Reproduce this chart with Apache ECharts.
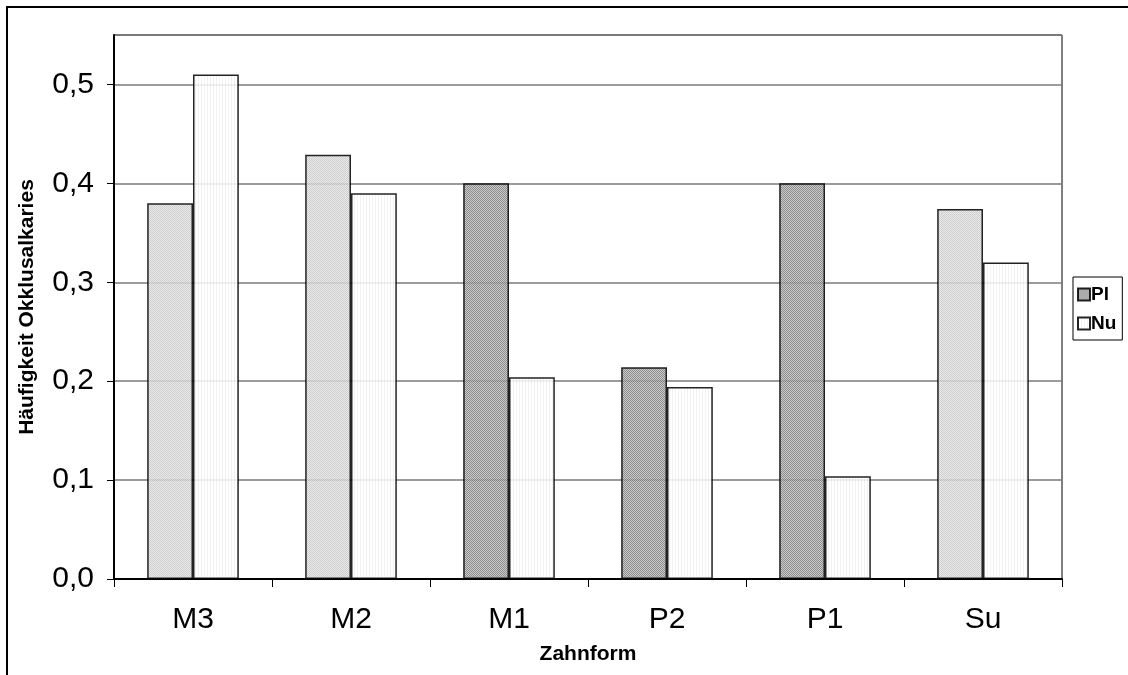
<!DOCTYPE html>
<html>
<head>
<meta charset="utf-8">
<script src="https://cdn.jsdelivr.net/npm/echarts@6/dist/echarts.min.js"></script>
<style>
  html, body { margin: 0; padding: 0; background: #fff; overflow: hidden; }
  #chart { width: 1128px; height: 675px; }
</style>
</head>
<body>
<div id="chart"></div>
<script>
// Tooth forms on the category axis
const categories = ['M3', 'M2', 'M1', 'P2', 'P1', 'Su'];
// Occlusal caries frequency per group
const seriesPl = [0.38, 0.429, 0.40, 0.214, 0.40, 0.374];
const seriesNu = [0.51, 0.39, 0.204, 0.194, 0.104, 0.32];
const seriesNames = ['Pl', 'Nu'];
const yTicks = [0.0, 0.1, 0.2, 0.3, 0.4, 0.5];

// Small repeating fill textures (stipple / stripes)
function makePattern(w, h, painter) {
  const c = document.createElement('canvas');
  c.width = w; c.height = h;
  const ctx = c.getContext('2d');
  painter(ctx);
  return { image: c, repeat: 'repeat' };
}
const darkFill = makePattern(2, 2, ctx => {
  ctx.fillStyle = '#c0c0c0'; ctx.fillRect(0, 0, 2, 2);
  ctx.fillStyle = '#7c7c7c'; ctx.fillRect(0, 0, 1, 1); ctx.fillRect(1, 1, 1, 1);
});
const lightFill = makePattern(2, 2, ctx => {
  ctx.fillStyle = '#e6e6e6'; ctx.fillRect(0, 0, 2, 2);
  ctx.fillStyle = '#c8c8c8'; ctx.fillRect(0, 0, 1, 1); ctx.fillRect(1, 1, 1, 1);
});
const stripeFill = makePattern(3, 1, ctx => {
  ctx.fillStyle = '#ffffff'; ctx.fillRect(0, 0, 3, 1);
  ctx.fillStyle = '#f0f0f0'; ctx.fillRect(0, 0, 1, 1);
});

// Pl bars for the molar/Su groups use the lighter stipple
const lightPlCats = new Set(['M3', 'M2', 'Su']);

const chart = echarts.init(document.getElementById('chart'), null, { renderer: 'canvas' });

const barBorder = { borderColor: '#000', borderWidth: 1.5 };
const font = 'Liberation Sans, Arial, sans-serif';
const frameStyle = { stroke: '#000', lineWidth: 2 };

chart.setOption({
  animation: false,
  graphic: [
    // page frame: left and top edges, running off the page
    { type: 'line', shape: { x1: 7, y1: 6, x2: 7, y2: 675 }, style: frameStyle, silent: true },
    { type: 'line', shape: { x1: 6, y1: 7, x2: 1128, y2: 7 }, style: frameStyle, silent: true }
  ],
  grid: {
    left: 114, top: 35, right: 66, bottom: 96,
    show: true, borderColor: '#000', borderWidth: 1, backgroundColor: 'transparent'
  },
  legend: {
    orient: 'vertical',
    left: 1073, top: 277,
    data: seriesNames,
    itemWidth: 12, itemHeight: 12, itemGap: 10,
    padding: [8, 6, 7, 4],
    borderColor: '#000', borderWidth: 1,
    icon: 'rect',
    textStyle: { fontFamily: font, fontWeight: 'bold', fontSize: 19, color: '#000', padding: [0, 0, 0, -4] }
  },
  xAxis: {
    type: 'category',
    data: categories,
    name: 'Zahnform',
    nameLocation: 'middle',
    nameGap: 65,
    nameTextStyle: { fontFamily: font, fontWeight: 'bold', fontSize: 21, color: '#000' },
    axisLine: { lineStyle: { color: '#000', width: 2 } },
    axisTick: { show: true, length: 8, lineStyle: { color: '#000', width: 1 } },
    axisLabel: { margin: 26, fontFamily: font, fontSize: 30, color: '#000' }
  },
  yAxis: {
    type: 'value',
    min: 0, max: 0.55, interval: 0.1,
    name: 'Häufigkeit Okklusalkaries',
    nameLocation: 'middle',
    nameGap: 76,
    nameTextStyle: { fontFamily: font, fontWeight: 'bold', fontSize: 21, color: '#000' },
    axisLine: { show: true, lineStyle: { color: '#000', width: 2 } },
    axisTick: { show: true, length: 7, lineStyle: { color: '#000', width: 1 } },
    splitLine: { show: true, lineStyle: { color: '#7a7a7a', width: 1.5 } },
    axisLabel: {
      margin: 20,
      showMaxLabel: false,
      fontFamily: font, fontSize: 30, color: '#000',
      formatter: v => yTicks.some(t => Math.abs(t - v) < 1e-9) ? v.toFixed(1).replace('.', ',') : ''
    }
  },
  series: [
    {
      name: seriesNames[0],
      type: 'bar',
      barGap: '0%',
      barCategoryGap: '42%',
      itemStyle: Object.assign({ color: darkFill, opacity: 0.86 }, barBorder),
      data: seriesPl.map((v, i) => ({
        value: v,
        itemStyle: { color: lightPlCats.has(categories[i]) ? lightFill : darkFill }
      }))
    },
    {
      name: seriesNames[1],
      type: 'bar',
      itemStyle: Object.assign({ color: stripeFill, opacity: 0.86 }, barBorder),
      data: seriesNu
    }
  ]
});
</script>
</body>
</html>
